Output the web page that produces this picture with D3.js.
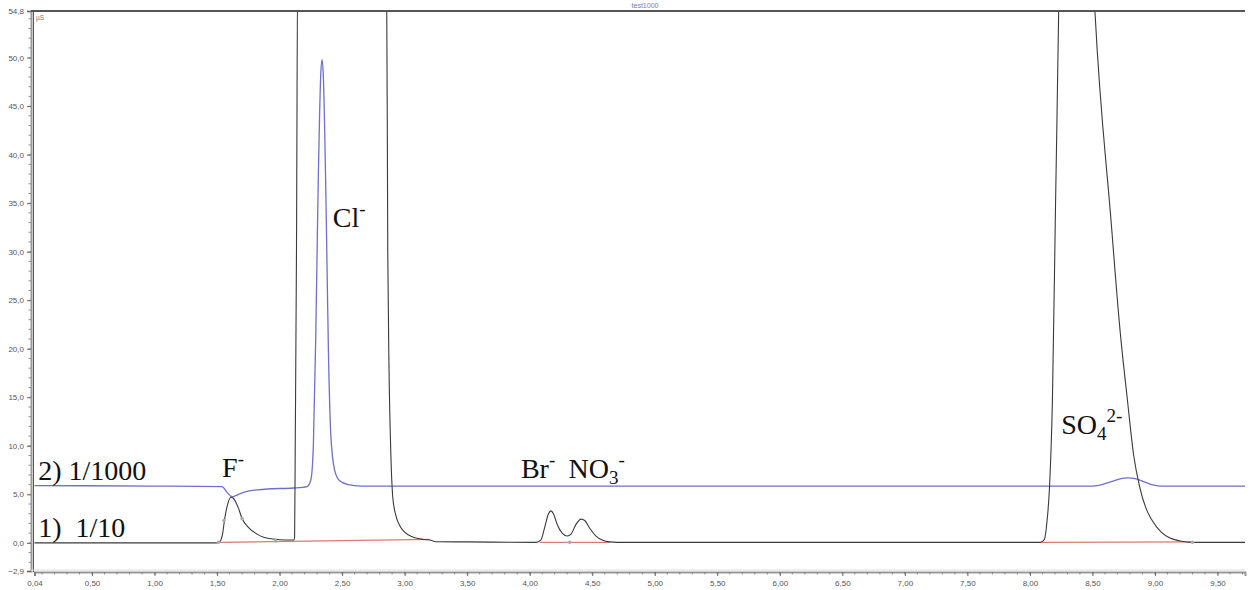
<!DOCTYPE html>
<html lang="en">
<head>
<meta charset="utf-8">
<title>Ion chromatogram</title>
<script src="https://d3js.org/d3.v7.min.js"></script>
<style>
    body { margin: 0; background: #fff; }
    svg { display: block; }
    .ion { font-family: "Liberation Serif", "DejaVu Serif", serif; fill: #111; }
    .tick text { font-family: "Liberation Sans", Arial, sans-serif; font-size: 8px; fill: #555; }
</style>
</head>
<body>
<div id="viz"></div>
<script>

    var width = 1249;
    var height = 590;

    // 1) 1/10 dilution - black trace, [time min, conductivity uS]
    var trace10 = [
        [0.04, 0], [1.50, 0], [1.52, 0.1], [1.545, 1.0], [1.56, 2.4], [1.585, 4.0], [1.61, 4.7], [1.63, 4.6],
        [1.67, 3.6], [1.70, 2.5], [1.75, 1.6], [1.82, 0.9], [1.88, 0.55], [1.95, 0.4], [2.05, 0.3], [2.115, 0.3],
        [2.12, 0.6], [2.125, 10], [2.135, 30], [2.145, 60], [2.855, 60], [2.865, 30], [2.875, 18], [2.89, 9],
        [2.905, 4.7], [2.93, 2.8], [2.96, 1.8], [3.0, 1.1], [3.065, 0.6], [3.15, 0.35], [3.2, 0.3], [3.25, 0.12],
        [3.5, 0.1], [4.05, 0.05], [4.09, 0.3], [4.12, 1.6], [4.15, 3.0], [4.17, 3.3], [4.19, 3.0], [4.22, 1.9],
        [4.26, 1.0], [4.30, 0.7], [4.33, 0.9], [4.37, 1.9], [4.41, 2.45], [4.44, 2.3], [4.48, 1.5], [4.53, 0.7],
        [4.58, 0.3], [4.64, 0.1], [4.70, 0.05], [8.08, 0.05], [8.10, 0.15], [8.117, 0.4], [8.135, 2.0],
        [8.157, 5.8], [8.18, 14.7], [8.205, 35], [8.23, 54.8], [8.235, 60], [8.50, 60], [8.52, 54.8], [8.65, 33],
        [8.72, 22], [8.78, 14.7], [8.83, 9], [8.877, 5.8], [8.93, 3.5], [8.973, 2.4], [9.05, 1.1], [9.12, 0.5],
        [9.2, 0.2], [9.3, 0.05], [9.72, 0.05]
    ];

    // 2) 1/1000 dilution - blue trace
    var trace1000 = [
        [0.04, 5.9], [1.0, 5.85], [1.54, 5.8], [1.58, 5.2], [1.62, 4.75], [1.68, 5.05], [1.74, 5.3], [1.82, 5.45],
        [1.90, 5.55], [2.11, 5.65], [2.22, 5.8], [2.25, 6.5], [2.27, 10], [2.29, 22], [2.31, 38], [2.33, 48.5],
        [2.34, 49.8], [2.35, 48], [2.37, 36], [2.39, 20], [2.41, 11], [2.44, 7.5], [2.48, 6.4], [2.55, 6.0],
        [2.65, 5.85], [8.50, 5.85], [8.56, 5.95], [8.65, 6.3], [8.72, 6.6], [8.78, 6.7], [8.85, 6.6], [8.92, 6.25],
        [8.99, 5.95], [9.06, 5.85], [9.72, 5.85]
    ];

    // integration baselines (red)
    var baselines = [
        [[1.52, 0.05], [3.20, 0.35]],
        [[4.08, 0.05], [4.64, 0.05]],
        [[8.08, 0.05], [9.30, 0.1]]
    ];

    // little peak markers (grey dots)
    var markers = [[1.51, 0.05], [1.555, 2.3], [1.70, 2.5], [1.97, 0.2], [4.32, 0.05], [9.30, 0.05]];

    var xTicks = [0.04, 0.5, 1.0, 1.5, 2.0, 2.5, 3.0, 3.5, 4.0, 4.5, 5.0, 5.5, 6.0, 6.5, 7.0, 7.5, 8.0, 8.5, 9.0, 9.5];
    var yTicks = [-2.9, 0, 5, 10, 15, 20, 25, 30, 35, 40, 45, 50, 54.8];

    // ion labels: [main, sub, sup, time, value]
    var ionLabels = [
        ["F", "", "-", 1.54, 6.8],
        ["Cl", "", "-", 2.425, 32.55],
        ["Br", "", "-", 3.93, 6.7],
        ["NO", "3", "-", 4.31, 6.7],
        ["SO", "4", "2-", 8.25, 11.2]
    ];
    var sampleLabels = [["2) 1/1000", 0.07, 6.45], ["1)  1/10", 0.07, 0.6]];

    var x = d3.scaleLinear().domain([0.04, 9.72]).range([34.5, 1245]);
    var y = d3.scaleLinear().domain([-2.9, 54.8]).range([571, 11]);

    var svg = d3.select("#viz").append("svg").attr("width", width).attr("height", height);

    svg.append("clipPath").attr("id", "plotclip")
        .append("rect").attr("x", 33).attr("y", 12).attr("width", 1213).attr("height", 558);

    var line = d3.line().x(d => x(d[0])).y(d => y(d[1])).curve(d3.curveMonotoneX);
    var plot = svg.append("g").attr("clip-path", "url(#plotclip)");

    plot.selectAll(".base").data(baselines).enter().append("path")
        .attr("d", line).attr("fill", "none").attr("stroke", "#d97a78").attr("stroke-width", 1.3);

    plot.append("path").datum(trace1000).attr("d", line)
        .attr("fill", "none").attr("stroke", "#6f6fcc").attr("stroke-width", 1.3);

    plot.append("path").datum(trace10).attr("d", line)
        .attr("fill", "none").attr("stroke", "#3a3a3a").attr("stroke-width", 1.1);

    plot.selectAll(".mk").data(markers).enter().append("circle")
        .attr("cx", d => x(d[0])).attr("cy", d => y(d[1])).attr("r", 1.8).attr("fill", "#aaa");

    // axes
    var xAxis = d3.axisBottom(x).tickValues(xTicks).tickSize(4)
        .tickFormat(d => d3.format(".2f")(d).replace(".", ","));
    var yAxis = d3.axisLeft(y).tickValues(yTicks).tickSize(4)
        .tickFormat(d => d3.format(".1f")(d).replace(".", ","));

    var gx = svg.append("g").attr("transform", "translate(0,572)").call(xAxis);
    var gy = svg.append("g").attr("transform", "translate(31,0)").call(yAxis);
    [gx, gy].forEach(g => {
        g.select(".domain").attr("stroke", "#999").attr("stroke-width", 2);
        g.selectAll(".tick line").attr("stroke", "#666");
    });
    gx.selectAll(".tick text").attr("dy", "0.9em");

    // minor ticks
    svg.append("g").selectAll("line").data(d3.range(0.1, 9.71, 0.1)).enter().append("line")
        .attr("x1", d => x(d)).attr("x2", d => x(d)).attr("y1", 572).attr("y2", 574.5)
        .attr("stroke", "#777").attr("stroke-width", 0.8);
    svg.append("g").selectAll("line").data(d3.range(-2, 54.5, 1)).enter().append("line")
        .attr("x1", 28.5).attr("x2", 31).attr("y1", d => y(d)).attr("y2", d => y(d))
        .attr("stroke", "#777").attr("stroke-width", 0.8);

    // frame lines
    svg.append("line").attr("x1", 33.5).attr("x2", 33.5).attr("y1", 11).attr("y2", 572)
        .attr("stroke", "#555").attr("stroke-width", 1);
    svg.append("line").attr("x1", 31).attr("x2", 1245).attr("y1", 11).attr("y2", 11)
        .attr("stroke", "#555").attr("stroke-width", 2);
    svg.append("line").attr("x1", 31).attr("x2", 1245).attr("y1", 570).attr("y2", 570)
        .attr("stroke", "#ddd").attr("stroke-width", 1);

    svg.append("text").attr("x", 36).attr("y", 20).text("µS")
        .attr("font-family", "Liberation Sans, sans-serif").attr("font-size", 6.5).attr("fill", "#777");
    svg.append("text").attr("x", 645).attr("y", 8).attr("text-anchor", "middle").text("test1000")
        .attr("font-family", "Liberation Sans, sans-serif").attr("font-size", 7).attr("fill", "#7777bb");

    // sample labels
    svg.selectAll(".sl").data(sampleLabels).enter().append("text")
        .attr("class", "ion").attr("x", d => x(d[1])).attr("y", d => y(d[2]))
        .attr("font-size", 28).attr("xml:space", "preserve").style("white-space", "pre")
        .text(d => d[0]);

    // ion labels with sub/superscripts
    ionLabels.forEach(function (d) {
        var t = svg.append("text").attr("class", "ion")
            .attr("x", x(d[3])).attr("y", y(d[4])).attr("font-size", 28);
        t.append("tspan").text(d[0]);
        if (d[1]) t.append("tspan").attr("font-size", 19).attr("dy", 6).text(d[1]);
        var up = d[1] ? -18 : -12;
        t.append("tspan").attr("font-size", 19).attr("dy", up).text(d[2]);
    });

</script>
</body>
</html>
